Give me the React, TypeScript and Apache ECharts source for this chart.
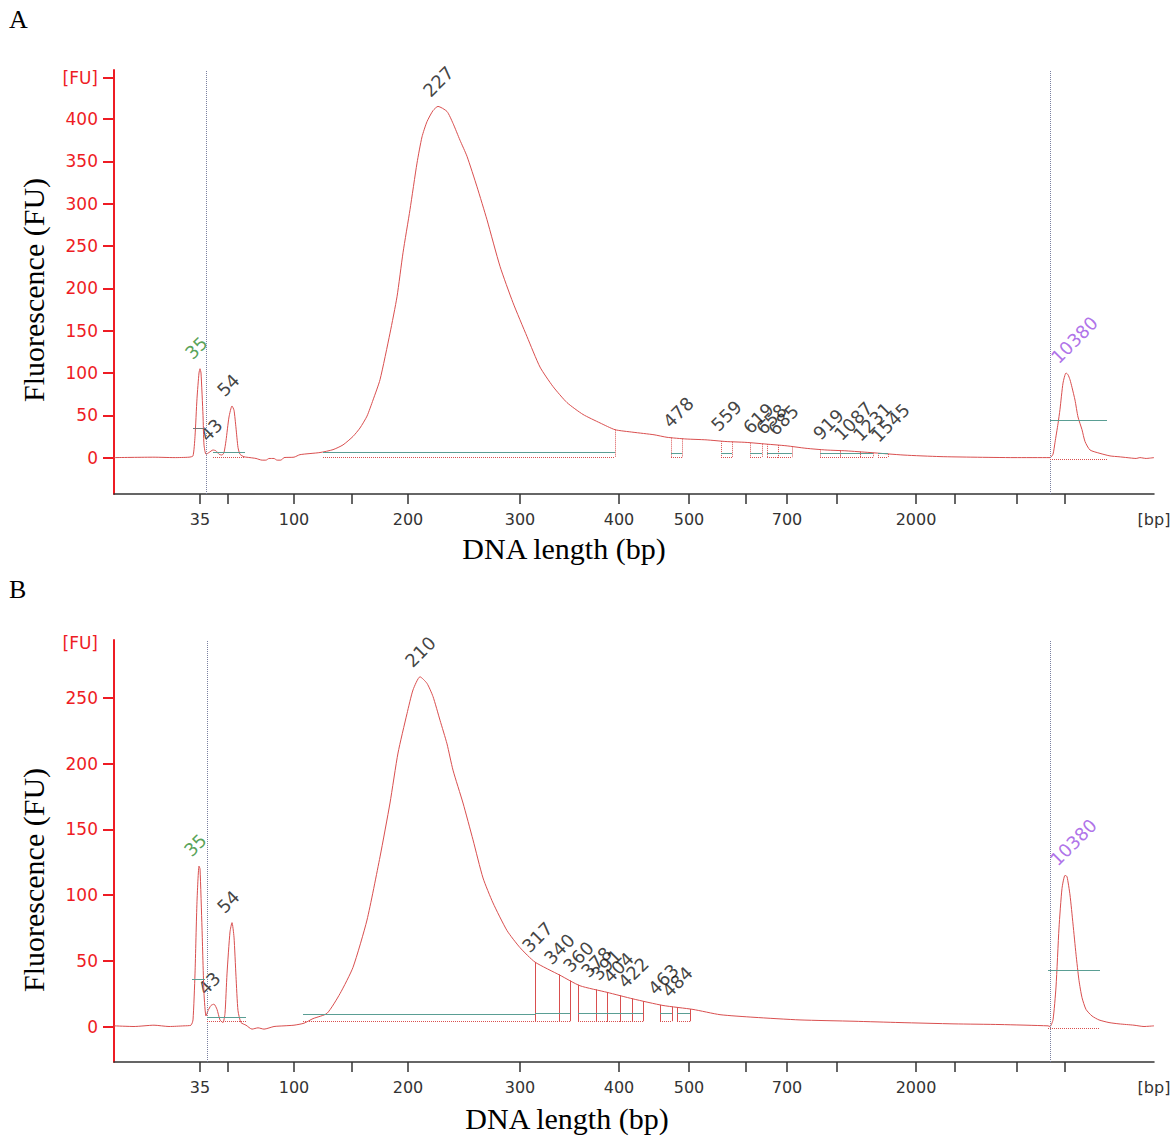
import React, { useEffect, useRef } from "react";
import * as echarts from "echarts";

// ---------- axis data ----------
const X_MAX = 1040; // migration position (a.u.)
const LADDER_BP = [35, 50, 100, 150, 200, 300, 400, 500, 600, 700, 1000, 2000, 3000, 7000, 10380];
const LADDER_POS = [86, 113.5, 180, 238, 294, 406, 505, 575, 632, 673, 723, 802, 840.5, 903, 951];
const LABELED_BP = [35, 100, 200, 300, 400, 500, 700, 2000];

const Y_TICKS_A = [0, 50, 100, 150, 200, 250, 300, 350, 400];
const Y_RANGE_A = [-43, 458];
const FU_LABEL_A = 449;
const Y_TICKS_B = [0, 50, 100, 150, 200, 250];
const Y_RANGE_B = [-27, 294];
const FU_LABEL_B = 292;

// ---------- traces (position, FU) ----------
const TRACE_A: number[][] = [
  [0, 0], [40, 0.5], [60, 0], [75, 0.5], [79, 2], [81, 25], [83, 70], [85, 100], [86, 105], [87, 100],
  [89, 50], [90, 15], [92, 4], [95, 6], [99, 9], [102, 8], [105, 4], [108, 3], [110, 6], [112, 20],
  [115, 48], [118, 61], [120, 56], [122, 35], [124, 12], [126, 4], [130, 1], [136, 0], [142, -1], [148, -3],
  [152, -3], [155, -1], [160, -1], [163, -3], [167, -3], [170, 0], [180, 0.5], [186, 3.5], [206, 6], [219, 9.4],
  [229, 15], [239, 25], [246, 35], [253, 49], [259, 68], [266, 92], [276, 147], [283, 190], [289, 242], [296, 293],
  [303, 348], [308, 379], [313, 397], [319, 410], [324, 415], [333, 409], [339, 395], [346, 375], [353, 356], [363, 320],
  [373, 281], [386, 226], [399, 183], [413, 143], [426, 107], [439, 84], [453, 65], [469, 51], [486, 41], [501, 33],
  [519, 30], [540, 27], [553, 24], [572, 22], [592, 21], [612, 19], [632, 18], [652, 16], [672, 14], [692, 11],
  [712, 9], [732, 8], [756, 6], [790, 3], [826, 1.2], [860, 0.5], [900, 0], [936, 0], [939, 4], [941, 18],
  [944, 40], [946, 57], [949, 88], [952, 100], [954, 98], [956, 92], [958, 83], [961, 68], [964, 48], [968, 33],
  [971, 19], [976, 9], [986, 5], [996, 2], [1005, 1], [1013, 0], [1022, -1], [1026, 0], [1032, -1], [1040, 0],
];

const TRACE_B: number[][] = [
  [0, 0.5], [20, 0], [40, 1], [55, 0], [70, 0.5], [77, 1], [79, 5], [81, 40], [83, 95], [85, 122],
  [86, 120], [88, 75], [90, 25], [92, 8], [94, 12], [97, 16], [100, 17], [103, 13], [106, 5], [109, 3],
  [111, 10], [113, 40], [116, 72], [118, 79], [120, 68], [122, 38], [124, 12], [127, 3], [132, 1], [138, -2],
  [144, -1], [150, -2], [160, 0], [170, 0.5], [180, 1], [190, 2.5], [199, 6], [213, 10], [226, 25], [239, 45],
  [253, 81], [266, 129], [276, 170], [284, 208], [293, 238], [299, 256], [306, 266], [313, 261], [319, 251], [326, 233],
  [333, 215], [339, 195], [349, 170], [359, 142], [369, 113], [379, 94], [393, 73], [406, 60], [421, 49], [446, 39],
  [466, 31], [493, 26], [519, 21], [549, 16], [579, 13], [606, 9], [640, 7], [686, 5], [740, 4], [786, 3],
  [840, 2], [886, 1.5], [934, 0.5], [936, 0], [939, 5], [942, 30], [945, 75], [948, 105], [951, 115], [953, 114],
  [956, 100], [959, 78], [962, 55], [965, 35], [968, 22], [972, 13], [978, 8], [985, 5], [995, 3], [1005, 2],
  [1020, 1], [1030, 0], [1040, 0.5],
];

// ---------- peak labels ----------
const PEAK_LABELS_A = ["35", "43", "54", "227", "478", "559", "619", "658", "685", "919", "1087", "1231", "1545", "10380"];
const PEAK_POS_A = [86, 101, 118, 324, 564, 612, 644, 657, 669, 714, 735, 754, 772, 952];
const PEAK_FU_A = [105, 8, 61, 415, 24, 20, 17, 16, 15, 10, 9, 8, 7, 100];

const PEAK_LABELS_B = ["35", "43", "54", "210", "317", "340", "360", "378", "391", "404", "422", "463", "484", "10380"];
const PEAK_POS_B = [85, 99, 118, 306, 423, 445, 464, 482, 492, 504, 519, 549, 563, 951];
const PEAK_FU_B = [122, 17, 79, 266, 49, 40, 34, 30, 28, 26, 22, 17, 15, 115];

// ---------- integration regions ----------
const MARKERS_A = [92, 936];
const MARKERS_B = [93, 936];
const MAIN_REGION_A = [209, 501];
const MAIN_REGION_B = [189, 421];
const SMALL_REGIONS_A = [[557, 568], [607, 618], [636, 648], [653, 664], [664, 678], [706, 726], [726, 746], [746, 759], [764, 774]];
const SMALL_REGIONS_B = [[421, 445], [445, 456], [464, 482], [482, 493], [493, 506], [506, 518], [518, 529], [546, 558], [563, 576]];

const RED = "#d94f4f";
const TEAL = "#5a9e94";
const AXIS_RED = "#ee1c24";

function interp(tr: number[][], u: number) {
  for (let i = 1; i < tr.length; i++) {
    if (tr[i][0] >= u) {
      const [x0, y0] = tr[i - 1];
      const [x1, y1] = tr[i];
      return y0 + ((y1 - y0) * (u - x0)) / (x1 - x0);
    }
  }
  return tr[tr.length - 1][1];
}

function seg(x1: number, y1: number, x2: number, y2: number, color: string, type: string) {
  const ls = { color, type, width: 1 };
  return [{ coord: [x1, y1], lineStyle: ls }, { coord: [x2, y2], lineStyle: ls }];
}

function buildMarks(tr: number[][], markers: number[], main: number[], small: number[][], opts: any) {
  const d: any[] = [];
  markers.forEach((m) => d.push({ xAxis: m, lineStyle: { type: "dotted", color: "#7a80a0", width: 1 } }));
  d.push(seg(opts.lmHalf[0], opts.lmHalf[2], opts.lmHalf[1], opts.lmHalf[2], opts.halfColor, "solid"));
  d.push(seg(opts.lmBase[0], opts.lmBase[2], opts.lmBase[1], opts.lmBase[2], TEAL, "solid"));
  d.push(seg(opts.lmBase[0], opts.base, opts.lmBase[1], opts.base, RED, "dotted"));
  d.push(seg(opts.um[0], opts.um[2], opts.um[1], opts.um[2], TEAL, "solid"));
  d.push(seg(opts.um[0], opts.umBase, opts.um[1], opts.umBase, RED, "dotted"));
  d.push(seg(main[0], opts.mainTeal, main[1], opts.mainTeal, TEAL, "solid"));
  d.push(seg(main[0], opts.base, main[1], opts.base, RED, "dotted"));
  d.push(seg(main[1], interp(tr, main[1]), main[1], opts.base, RED, opts.edgeType));
  small.forEach(([a, b]) => {
    d.push(seg(a, interp(tr, a), a, opts.base, RED, opts.edgeType));
    d.push(seg(b, interp(tr, b), b, opts.base, RED, opts.edgeType));
    d.push(seg(a, opts.base, b, opts.base, RED, "dotted"));
    d.push(seg(a, opts.smallTeal, b, opts.smallTeal, TEAL, "solid"));
  });
  return d;
}

function peakData(labels: string[], pos: number[], fu: number[]) {
  return labels.map((l, i) => {
    let color = "#111";
    if (i === 0) color = "#2e8b2e";
    if (i === labels.length - 1) color = "#9b4fe3";
    return { value: [pos[i], fu[i]], name: l, label: { color } };
  });
}

function xAxisCfg(gridIndex: number) {
  const labelVals = LABELED_BP.map((b) => LADDER_POS[LADDER_BP.indexOf(b)]).concat([X_MAX]);
  return {
    type: "value",
    gridIndex,
    min: 0,
    max: X_MAX,
    splitLine: { show: false },
    axisLine: { onZero: false, lineStyle: { color: "#333", width: 1.5 } },
    axisTick: { show: true, length: 10, customValues: LADDER_POS, lineStyle: { color: "#333", width: 1.5 } },
    axisLabel: {
      customValues: labelVals,
      margin: 17,
      color: "#333",
      fontFamily: "DejaVu Sans",
      fontSize: 16,
      formatter: (v: number) => {
        if (v === X_MAX) return "[bp]";
        const i = LADDER_POS.indexOf(v);
        return i >= 0 ? String(LADDER_BP[i]) : "";
      },
    },
  };
}

function yAxisCfg(gridIndex: number, range: number[], ticks: number[], fuLabel: number, fuTick: boolean) {
  return {
    type: "value",
    gridIndex,
    min: range[0],
    max: range[1],
    splitLine: { show: false },
    axisLine: { show: true, onZero: false, lineStyle: { color: AXIS_RED, width: 2 } },
    axisTick: { show: true, length: 11, customValues: fuTick ? ticks.concat([fuLabel]) : ticks, lineStyle: { color: AXIS_RED, width: 2 } },
    axisLabel: {
      customValues: ticks.concat([fuLabel]),
      margin: 16,
      color: AXIS_RED,
      fontFamily: "DejaVu Sans",
      fontSize: 17,
      formatter: (v: number) => (v === fuLabel ? "[FU]" : String(v)),
    },
  };
}

const peakLabel = {
  show: true,
  formatter: "{b}",
  position: [-5, -6],
  align: "left",
  verticalAlign: "bottom",
  rotate: 45,
  fontFamily: "DejaVu Sans",
  fontSize: 18,
};

export default function App() {
  const ref = useRef<HTMLDivElement>(null);
  useEffect(() => {
    if (!ref.current) return;
    const chart = echarts.init(ref.current, null, { renderer: "svg" });
    const serif = "Liberation Serif";
    const traceSeries = (i: number, data: number[][], marks: any[]) => ({
      type: "line",
      xAxisIndex: i,
      yAxisIndex: i,
      data,
      showSymbol: false,
      smooth: 0.2,
      lineStyle: { color: RED, width: 1 },
      markLine: { silent: true, symbol: ["none", "none"], label: { show: false }, data: marks },
    });
    chart.setOption({
      animation: false,
      backgroundColor: "#ffffff",
      grid: [
        { left: 114, top: 70, width: 1040, height: 424, outerBoundsMode: "none" },
        { left: 114, top: 640, width: 1040, height: 422, outerBoundsMode: "none" },
      ],
      xAxis: [xAxisCfg(0), xAxisCfg(1)],
      yAxis: [
        yAxisCfg(0, Y_RANGE_A, Y_TICKS_A, FU_LABEL_A, true),
        yAxisCfg(1, Y_RANGE_B, Y_TICKS_B, FU_LABEL_B, false),
      ],
      graphic: [
        { type: "text", left: 9, top: 6, style: { text: "A", font: `26px "${serif}"`, fill: "#000" } },
        { type: "text", left: 9, top: 576, style: { text: "B", font: `26px "${serif}"`, fill: "#000" } },
        { type: "text", x: 33, y: 290, rotation: Math.PI / 2, style: { text: "Fluorescence (FU)", font: `30px "${serif}"`, fill: "#000", align: "center", verticalAlign: "middle" } },
        { type: "text", x: 33, y: 880, rotation: Math.PI / 2, style: { text: "Fluorescence (FU)", font: `30px "${serif}"`, fill: "#000", align: "center", verticalAlign: "middle" } },
        { type: "text", x: 564, y: 548, style: { text: "DNA length (bp)", font: `30px "${serif}"`, fill: "#000", align: "center", verticalAlign: "middle" } },
        { type: "text", x: 567, y: 1118, style: { text: "DNA length (bp)", font: `30px "${serif}"`, fill: "#000", align: "center", verticalAlign: "middle" } },
      ],
      series: [
        traceSeries(0, TRACE_A, buildMarks(TRACE_A, MARKERS_A, MAIN_REGION_A, SMALL_REGIONS_A, {
          lmHalf: [79, 91, 35], halfColor: "#777", lmBase: [99, 131, 6], base: 0.5,
          um: [936, 993, 44], umBase: -2.5, mainTeal: 6, smallTeal: 5, edgeType: "dotted",
        })),
        traceSeries(1, TRACE_B, buildMarks(TRACE_B, MARKERS_B, MAIN_REGION_B, SMALL_REGIONS_B, {
          lmHalf: [78, 91, 36], halfColor: TEAL, lmBase: [93, 132, 7], base: 4,
          um: [934, 986, 43], umBase: -1.5, mainTeal: 9, smallTeal: 10, edgeType: "solid",
        })),
        {
          type: "scatter",
          xAxisIndex: 0,
          yAxisIndex: 0,
          symbolSize: 1,
          itemStyle: { color: "rgba(0,0,0,0)" },
          label: peakLabel,
          data: peakData(PEAK_LABELS_A, PEAK_POS_A, PEAK_FU_A),
        },
        {
          type: "scatter",
          xAxisIndex: 1,
          yAxisIndex: 1,
          symbolSize: 1,
          itemStyle: { color: "rgba(0,0,0,0)" },
          label: peakLabel,
          data: peakData(PEAK_LABELS_B, PEAK_POS_B, PEAK_FU_B),
        },
      ],
    });
    return () => chart.dispose();
  }, []);
  return <div ref={ref} style={{ position: "absolute", left: 0, top: 0, width: 1175, height: 1138 }} />;
}
